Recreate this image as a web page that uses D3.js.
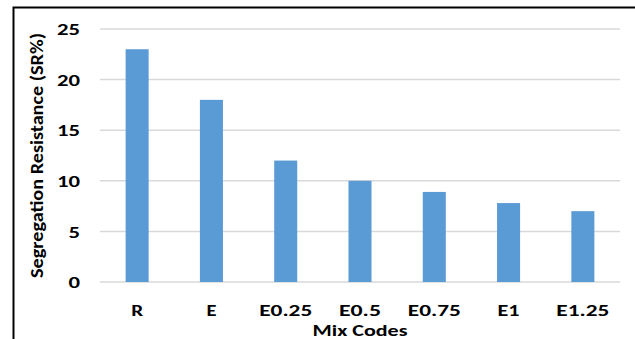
<!DOCTYPE html>
<html>
<head>
<meta charset="utf-8">
<script src="https://cdn.jsdelivr.net/npm/d3@7"></script>
<style>
  html, body { margin: 0; padding: 0; background: #fff; }
  svg { display: block; }
  text { font-family: Carlito, "Open Sans", "Liberation Sans", sans-serif; font-weight: bold; fill: #000; }
</style>
</head>
<body>
<svg id="chart" width="635" height="339"></svg>
<script>
// Segregation resistance per mix
const categories = ["R", "E", "E0.25", "E0.5", "E0.75", "E1", "E1.25"];
const values = [23, 18, 12, 10, 8.9, 7.8, 7];
const yTicks = [0, 5, 10, 15, 20, 25];
const xTitle = "Mix Codes";
const yTitle = "Segregation Resistance (SR%)";

const svg = d3.select("#chart");
const W = 635, H = 339;
const plot = { left: 100, right: 620, top: 29, bottom: 282 };

const x = d3.scaleBand()
  .domain(categories)
  .range([plot.left, plot.right])
  .paddingInner(0.69)
  .paddingOuter(0.345);

const y = d3.scaleLinear()
  .domain([0, 25])
  .range([plot.bottom, plot.top]);

// outer frame (left and top edges)
svg.append("path")
  .attr("d", `M13.5,${H} L13.5,7.5 L${W},7.5`)
  .attr("fill", "none")
  .attr("stroke", "#000")
  .attr("stroke-width", 2);

// horizontal gridlines
svg.append("g")
  .selectAll("line")
  .data(yTicks)
  .join("line")
  .attr("x1", plot.left)
  .attr("x2", plot.right)
  .attr("y1", d => y(d))
  .attr("y2", d => y(d))
  .attr("stroke", "#d9d9d9")
  .attr("stroke-width", 1.5);

// y axis labels
const yAxis = svg.append("g")
  .attr("transform", `translate(${plot.left - 20},0)`)
  .call(d3.axisLeft(y).tickValues(yTicks).tickSize(0).tickPadding(0));
yAxis.select(".domain").remove();
yAxis.selectAll("text")
  .attr("font-size", 16)
  .attr("dy", "0.36em")
  .attr("lengthAdjust", "spacingAndGlyphs")
  .attr("textLength", d => String(d).length * 11.5);

// bars
svg.append("g")
  .selectAll("rect")
  .data(values)
  .join("rect")
  .attr("x", (d, i) => x(categories[i]))
  .attr("width", x.bandwidth())
  .attr("y", d => y(d))
  .attr("height", d => y(0) - y(d))
  .attr("fill", "#5b9bd5");

// x axis labels
const xAxis = svg.append("g")
  .attr("transform", `translate(0,${plot.bottom})`)
  .call(d3.axisBottom(x).tickSize(0).tickPadding(0));
xAxis.select(".domain").remove();
const labelWidths = { "R": 12, "E": 10, "E0.25": 53, "E0.5": 42, "E0.75": 53, "E1": 22, "E1.25": 53 };
xAxis.selectAll("text")
  .attr("font-size", 16.5)
  .attr("y", 34)
  .attr("dy", 0)
  .attr("lengthAdjust", "spacingAndGlyphs")
  .attr("textLength", d => labelWidths[d]);

// axis titles
svg.append("text")
  .attr("x", (plot.left + plot.right) / 2)
  .attr("y", 336)
  .attr("text-anchor", "middle")
  .attr("font-size", 16.5)
  .attr("lengthAdjust", "spacingAndGlyphs")
  .attr("textLength", 95)
  .text(xTitle);

svg.append("text")
  .attr("transform", `translate(43,${(33 + 278) / 2}) rotate(-90)`)
  .attr("text-anchor", "middle")
  .attr("font-size", 17)
  .attr("lengthAdjust", "spacingAndGlyphs")
  .attr("textLength", 245)
  .text(yTitle);
</script>
</body>
</html>
